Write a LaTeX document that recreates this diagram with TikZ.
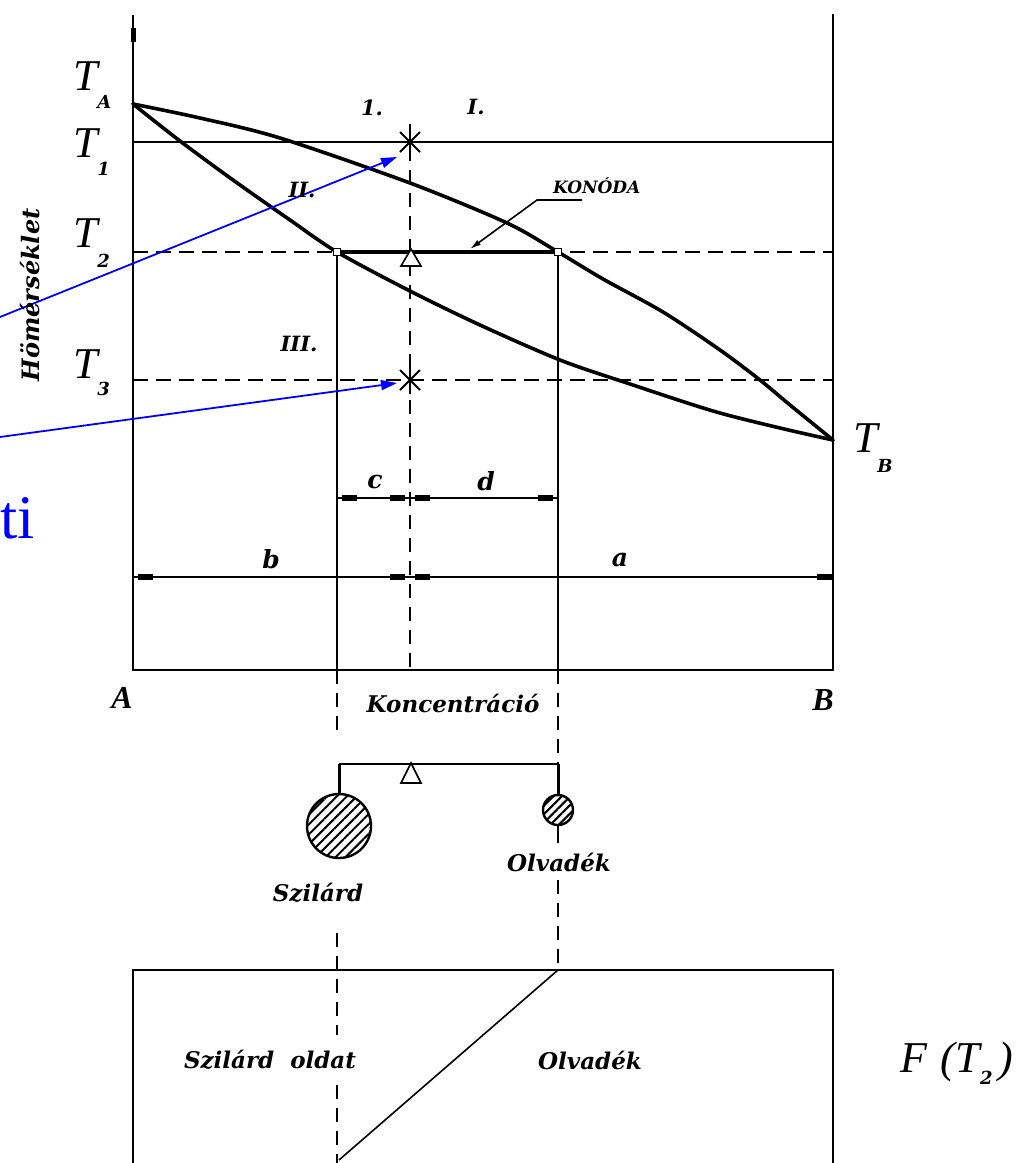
\documentclass[tikz,border=0pt]{standalone}
\usepackage{fontspec}
\newfontfamily\pf{DejaVu Serif}
\newfontfamily\tmf{Liberation Serif}
\usetikzlibrary{arrows.meta,patterns.meta}
\definecolor{pureblue}{RGB}{0,0,255}
\newcommand\subtx[1]{{\pf\bfseries\itshape\fontsize{18}{18}\selectfont #1}}
\newcommand\Tlab[3]{T\kern#3pt\raisebox{-#2pt}{\subtx{#1}}}
\tikzset{
  every node/.style={inner sep=0pt,outer sep=0pt},
  frame/.style={line width=1.8pt},
  curve/.style={line width=3.6pt,line join=round,line cap=round},
  dashln/.style={line width=1.6pt,dash pattern=on 15pt off 8pt},
  vdash/.style={line width=1.6pt,dash pattern=on 14pt off 9pt},
  tie/.style={line width=3.8pt},
  blu/.style={draw=pureblue,line width=1.8pt,-{Triangle[length=16pt,width=10pt]}},
  dimtip/.style={line width=1.6pt,shorten <=5pt,shorten >=5pt,{Rectangle[length=15pt,width=6pt]}-{Rectangle[length=15pt,width=6pt]}},
  lab/.style={font=\pf\bfseries\itshape\fontsize{#1}{#1}\selectfont},
  Tfont/.style={font=\tmf\itshape\fontsize{44}{44}\selectfont,anchor=base west},
  star/.style={line width=1.8pt},
}
\begin{document}
\begin{tikzpicture}[x=1pt,y=-1pt]
\useasboundingbox (0,0) rectangle (1022,1163);
% coordinates
\coordinate (Ytop) at (133,15);
\coordinate (O) at (133,670);
\coordinate (Rbot) at (833,670);
\coordinate (Rtop) at (833,14);
\coordinate (TA) at (133,104);
\coordinate (TB) at (833,440);
\coordinate (T1L) at (133,142);
\coordinate (T1R) at (833,142);
\coordinate (T2L) at (133,252);
\coordinate (T2R) at (833,252);
\coordinate (T3L) at (133,380);
\coordinate (T3R) at (833,380);
\coordinate (S) at (337,252);
\coordinate (L) at (558,252);
\coordinate (S0) at (337,670);
\coordinate (L0) at (558,670);
\coordinate (Mtop) at (410,124);
\coordinate (M1) at (410,142);
\coordinate (M3) at (410,380);
\coordinate (M0) at (410,670);

% axes
\draw[frame] (Ytop) -- (O) -- (Rbot) -- (Rtop);
\fill (130.5,28) rectangle (135.5,42);

% isotherms
\draw[frame] (T1L) -- (T1R);
\draw[dashln] (T2L) -- (T2R);
\draw[dashln] (T3L) -- (T3R);
\draw[vdash] (Mtop) -- (M0);
\draw[frame] (S) -- (S0);
\draw[frame] (L) -- (L0);

% liquidus and solidus
\draw[curve] plot[smooth,tension=0.5] coordinates {(133,104) (200,118) (280,138) (410,183) (507,223) (558,252) (603,279) (663,312) (720,350) (760,380) (790,405) (833,440)};
\draw[curve] plot[smooth,tension=0.5] coordinates {(133,104) (180,141) (233,180) (290,220) (337,252) (410,291) (480,325) (560,360) (627,383) (713,411) (780,428) (833,440)};

% tie line
\draw[tie] (S) -- (L);
\draw[fill=white,line width=1.2pt] (S) +(-3.5,-3.5) rectangle +(3.5,3.5);
\draw[fill=white,line width=1.2pt] (L) +(-3.5,-3.5) rectangle +(3.5,3.5);
\draw[fill=white,line width=1.6pt] (411,249) -- (401,266) -- (421,266) -- cycle;

% stars
\draw[star] (M1) +(-10,-10) -- +(10,10) (M1) +(-10,10) -- +(10,-10) (M1) +(0,-17) -- +(0,14);
\draw[star] (M3) +(-10,-10) -- +(10,10) (M3) +(-10,10) -- +(10,-10) (M3) +(0,-14) -- +(0,14);

% blue arrows
\coordinate (b1s) at (0,317);
\coordinate (b1e) at (397,157);
\coordinate (b2s) at (0,437);
\coordinate (b2e) at (397,383);
\draw[blu] (b1s) -- (b1e);
\draw[blu] (b2s) -- (b2e);

% konoda leader
\coordinate (K1) at (470,249);
\coordinate (K2) at (537,200);
\coordinate (K3) at (582,200);
\draw[line width=1.6pt,{Latex[length=11pt,width=6pt]}-] (K1) -- (K2) -- (K3);
\node[lab=17,anchor=base west] (kon) at (553,193) {KONÓDA};

% temperature labels
\node[Tfont] (lTA) at (73,90) {\Tlab{A}{18}{0}};
\node[Tfont] (lT1) at (73,157) {\Tlab{1}{18}{0}};
\node[Tfont] (lT2) at (73,247) {\Tlab{2}{20}{0}};
\node[Tfont] (lT3) at (73,378) {\Tlab{3}{17}{0}};
\node[Tfont] (lTB) at (853,452) {\Tlab{B}{20}{0}};

% region labels
\node[lab=21] (r1) at (372,108) {1.};
\node[lab=21] (rI) at (476,107) {I.};
\node[lab=21] (rII) at (302,190) {II.};
\node[lab=21] (rIII) at (299,344) {III.};

\node[lab=24,rotate=90] (hom) at (30,295) {Hömérséklet};
\node[font=\tmf\fontsize{62}{62}\selectfont,text=pureblue,anchor=base west] (ti) at (0,538) {ti};

% dimensions
\coordinate (dc1) at (337,498);
\coordinate (dc2) at (410,498);
\coordinate (dc3) at (558,498);
\draw[line width=1.6pt] (dc1) -- (dc3);
\draw[dimtip] (dc1) -- (dc2);
\draw[dimtip] (dc2) -- (dc3);
\coordinate (db1) at (133,577);
\coordinate (db2) at (410,577);
\coordinate (db3) at (833,577);
\draw[line width=1.6pt] (db1) -- (db3);
\draw[dimtip] (db1) -- (db2);
\draw[dimtip,shorten >=1pt] (db2) -- (db3);
\node[lab=25] (lc) at (375,482) {c};
\node[lab=25] (ld) at (486,481) {d};
\node[lab=25] (lb) at (271,559) {b};
\node[lab=25] (la) at (620,560) {a};

% axis labels
\node[font=\tmf\bfseries\itshape\fontsize{32}{32}\selectfont] (lA) at (122,698) {A};
\node[font=\tmf\bfseries\itshape\fontsize{32}{32}\selectfont] (lB) at (823,700) {B};
\node[lab=23] (konc) at (453,703) {Koncentráció};

% dashed projections below
\coordinate (Sd1) at (337,735);
\coordinate (Sd2) at (337,933);
\coordinate (Sd3) at (337,1035);
\coordinate (Sd4) at (337,1085);
\coordinate (Sd5) at (337,1163);
\coordinate (Ld2) at (558,880);
\coordinate (Lbox) at (558,970);
\draw[vdash] (S0) -- (Sd1);
\draw[vdash] (Sd2) -- (Sd3);
\draw[vdash] (Sd4) -- (Sd5);
\draw[vdash] (L0) -- (558,764);
\draw[vdash] (Ld2) -- (Lbox);

% lever
\coordinate (lv1) at (339,764);
\coordinate (lv2) at (558,764);
\draw[frame] (lv1) -- (lv2);
\node[circle,draw,line width=2.4pt,minimum size=64pt,pattern={Lines[angle=45,distance=7pt,line width=2pt]}] (ballS) at (339,826) {};
\node[circle,draw,line width=2.4pt,minimum size=30pt,pattern={Lines[angle=45,distance=6pt,line width=2pt]}] (ballL) at (558,810) {};
\draw[line width=3pt] (lv1) -- (ballS.north);
\draw[line width=3pt] (lv2) -- (ballL.north);
\draw[frame] (ballL.south) -- (558,843);
\draw[fill=white,line width=1.6pt] (411,763) -- (401,783) -- (421,783) -- cycle;
\node[lab=23] (lS) at (318,893) {Szilárd};
\node[lab=23] (lL) at (559,862) {Olvadék};

% bottom box
\draw[frame] (133,1170) -- (133,970) -- (833,970) -- (833,1170);
\draw[line width=1.6pt] (Lbox) -- (339,1160);
\node[lab=23] (bx1) at (270,1060) {Szilárd\ \ oldat};
\node[lab=23] (bx2) at (590,1060) {Olvadék};
\node[Tfont] (fT) at (900,1072) {F\hspace{14pt}(\Tlab{2}{12}{0}\hspace{6pt})};
\end{tikzpicture}
\end{document}
